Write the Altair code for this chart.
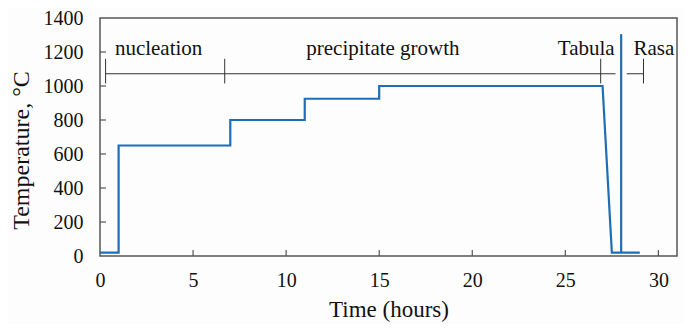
import altair as alt
import pandas as pd

# Main temperature profile
time_pts = [0, 1, 1, 7, 7, 11, 11, 15, 15, 27, 27.5, 29]
temp_pts = [20, 20, 650, 650, 800, 800, 925, 925, 1000, 1000, 20, 20]

# Tabula / Rasa divider line
div_time = [28, 28]
div_temp = [20, 1305]

# Phase bracket segments (start, end) at bracket level
seg_start = [0.3, 28.3]
seg_end = [27.7, 29.2]
bracket_level = 1072
bracket_ticks = [0.3, 6.7, 26.9, 29.2]
bracket_tick_lo = 1015
bracket_tick_hi = 1160

# Phase labels
label_text = ["nucleation", "precipitate growth", "Tabula", "Rasa"]
label_x = [0.8, 15.2, 27.65, 28.66]
label_align = ["left", "center", "right", "left"]
label_y = 1185

x_ticks = [0, 5, 10, 15, 20, 25, 30]
y_ticks = [0, 200, 400, 600, 800, 1000, 1200, 1400]

W, H = 577, 238
FONT = "Liberation Serif"
BLUE = "#1f6db5"

xs = alt.Scale(domain=[0, 31], nice=False, zero=False)
ys = alt.Scale(domain=[0, 1400], nice=False)

xaxis = alt.Axis(values=x_ticks, title="Time (hours)", format="d", titlePadding=8,
                 labelOverlap=False, tickCount=len(x_ticks))
yaxis = alt.Axis(values=y_ticks, title="Temperature, °C", format="d",
                 labelOverlap=False, tickCount=len(y_ticks),
                 titleX=-67, titleY=132)


def X(f):
    return alt.X(f, type="quantitative", scale=xs, axis=xaxis)


def Y(f):
    return alt.Y(f, type="quantitative", scale=ys, axis=yaxis)


prof = pd.DataFrame({"t": time_pts, "T": temp_pts, "o": list(range(len(time_pts)))})
line = alt.Chart(prof).mark_line(color=BLUE, strokeWidth=2.2, strokeJoin="miter").encode(
    x=X("t"), y=Y("T"), order="o:O",
)

div = pd.DataFrame({"t": div_time, "T": div_temp, "o": [0, 1]})
divider = alt.Chart(div).mark_line(color=BLUE, strokeWidth=2.2).encode(
    x=X("t"), y=Y("T"), order="o:O"
)

seg = pd.DataFrame({"a": seg_start, "b": seg_end, "y": [bracket_level] * len(seg_start)})
segs = alt.Chart(seg).mark_rule(color="#333", strokeWidth=1).encode(
    x=X("a"), x2="b:Q", y=Y("y")
)

bt = pd.DataFrame({"x": bracket_ticks, "lo": [bracket_tick_lo] * len(bracket_ticks),
                   "hi": [bracket_tick_hi] * len(bracket_ticks)})
bticks = alt.Chart(bt).mark_rule(color="#333", strokeWidth=1).encode(
    x=X("x"), y=Y("lo"), y2="hi:Q"
)

lab = pd.DataFrame({"txt": label_text, "x": label_x, "al": label_align,
                    "y": [label_y] * len(label_text)})
labels = []
for al in ["left", "center", "right"]:
    labels.append(
        alt.Chart(lab[lab["al"] == al]).mark_text(
            font=FONT, fontSize=21, color="#111", align=al, baseline="alphabetic"
        ).encode(x=X("x"), y=Y("y"), text="txt:N")
    )

# inward ticks
xt = pd.DataFrame({"x": x_ticks[1:]})
xtick = alt.Chart(xt).mark_rule(color="#555", strokeWidth=1.2).encode(
    x=X("x"), y=alt.value(H), y2=alt.value(H - 6)
)
yt = pd.DataFrame({"y": y_ticks[1:-1]})
ytick = alt.Chart(yt).mark_rule(color="#555", strokeWidth=1.2).encode(
    y=Y("y"), x=alt.value(0), x2=alt.value(6)
)

chart = alt.layer(line, divider, segs, bticks, *labels, xtick, ytick).properties(
    width=W, height=H,
    background="#fdfdfd",
    autosize=alt.AutoSizeParams(type="none"),
    padding={"left": 92, "top": 10, "right": 7, "bottom": 68},
).configure_view(
    stroke="#555", strokeWidth=1.5
).configure_axis(
    tickSize=0, domain=False, grid=False, labelFont=FONT, labelFontSize=20,
    labelColor="#111", labelOverlap=False, labelFlush=False,
    titleFont=FONT, titleColor="#111", titleFontWeight="normal",
).configure_axisX(
    labelPadding=14, titleFontSize=23
).configure_axisY(
    labelPadding=17, titleFontSize=24
)

chart.save("out.html", embed_options={"renderer": "svg", "actions": False})
